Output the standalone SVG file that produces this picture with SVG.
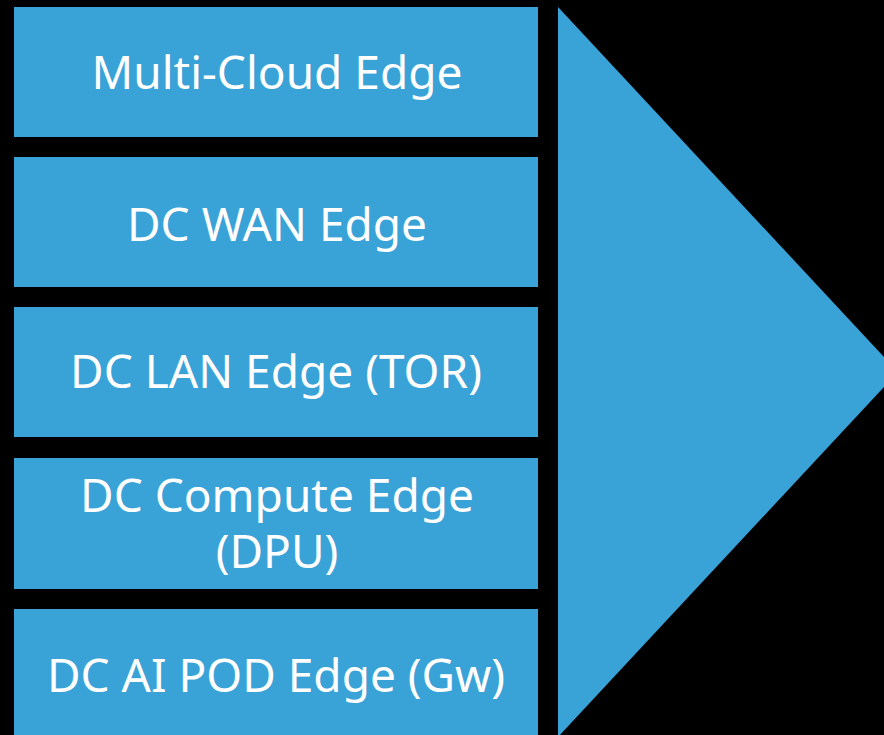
<svg xmlns="http://www.w3.org/2000/svg" width="884" height="735" viewBox="0 0 884 735">
  <style>
    .box { fill: #39a3d7; }
    .label { fill: #ffffff; font-family: "Noto Sans", "Open Sans", sans-serif; font-size: 46px; text-anchor: middle; }
  </style>
  <rect x="0" y="0" width="884" height="735" fill="#000000"/>

  <!-- stacked edge layers -->
  <g id="multi-cloud-edge">
    <rect class="box" x="14" y="7" width="524" height="130"/>
    <text class="label" x="277" y="89">Multi-Cloud Edge</text>
  </g>
  <g id="dc-wan-edge">
    <rect class="box" x="14" y="157" width="524" height="130"/>
    <text class="label" x="277" y="241">DC WAN Edge</text>
  </g>
  <g id="dc-lan-edge">
    <rect class="box" x="14" y="307" width="524" height="130"/>
    <text class="label" x="276" y="388">DC LAN Edge (TOR)</text>
  </g>
  <g id="dc-compute-edge">
    <rect class="box" x="14" y="458" width="524" height="131"/>
    <text class="label" x="277" y="512">DC Compute Edge</text>
    <text class="label" x="277" y="568">(DPU)</text>
  </g>
  <g id="dc-ai-pod-edge">
    <rect class="box" x="14" y="609" width="524" height="130"/>
    <text class="label" x="276" y="692">DC AI POD Edge (Gw)</text>
  </g>

  <!-- direction arrow -->
  <g id="arrow">
    <polygon class="box" points="558,7 898,372 558,737"/>
  </g>
</svg>
